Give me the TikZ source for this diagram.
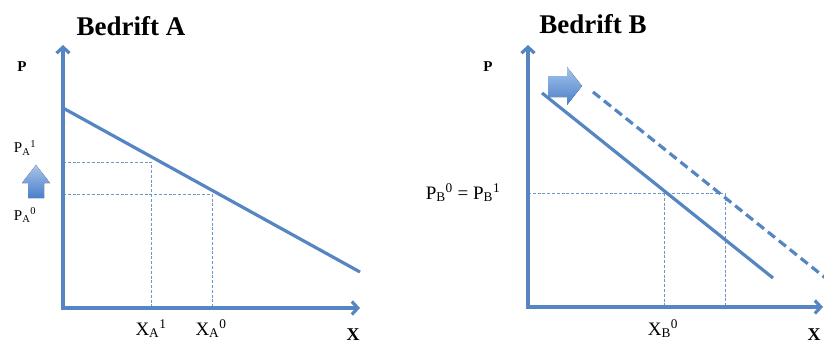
\documentclass[tikz,border=0pt]{standalone}
\usepackage{fontspec}
\setmainfont{Liberation Serif}
\usetikzlibrary{arrows.meta}
\definecolor{axblue}{HTML}{5585C2}
\definecolor{guideblue}{HTML}{6E97CC}
\definecolor{arrlight}{HTML}{A7C4EC}
\definecolor{arrdark}{HTML}{4A7FC8}
\begin{document}
\begin{tikzpicture}[x=1pt,y=-1pt,
  axis/.style={draw=axblue,line width=3.2pt,-{Straight Barb[length=6pt,width=13pt]}},
  demand/.style={draw=axblue,line width=3.2pt},
  shifted/.style={draw=axblue,line width=3.2pt,dash pattern=on 9pt off 5pt},
  guide/.style={draw=guideblue,line width=0.9pt,dash pattern=on 3pt off 1.8pt},
  title/.style={font=\fontsize{27}{31}\selectfont\bfseries},
  lab/.style={font=\fontsize{15}{17}\selectfont},
  biglab/.style={font=\fontsize{19}{22}\selectfont},
  axlab/.style={font=\fontsize{15}{17}\selectfont\bfseries},
  xlab/.style={font=\fontsize{18}{20}\selectfont\bfseries,inner sep=1pt},
  blockarrow/.style={top color=arrlight,bottom color=arrdark,draw=none}]
\useasboundingbox (0,0) rectangle (824,345);
% ---------- Bedrift A ----------
\coordinate (Aob) at (63,309.6);
\coordinate (Aol) at (61.4,308);
\coordinate (Ay) at (63,45);
\coordinate (Ax) at (360,308);
\coordinate (Ad1) at (63,108);
\coordinate (Ad2) at (360,272);
\coordinate (Ap1) at (63,162);
\coordinate (Ax1) at (151,308);
\coordinate (Ap0) at (63,194);
\coordinate (Ax0) at (212,308);
\draw[guide] (Ap1) -| (Ax1);
\draw[guide] (Ap0) -| (Ax0);
\draw[axis] (Aob) -- (Ay);
\draw[axis] (Aol) -- (Ax);
\draw[demand] (Ad1) -- (Ad2);
\fill[blockarrow] (36,165) -- (50,183) -- (44,183) -- (44,198) -- (28,198) -- (28,183) -- (22,183) -- cycle;
\node[title] (tA) at (131,26) {Bedrift A};
\node[axlab] (PA) at (22,67) {P};
\node[lab] (PA1) at (25,148) {P\textsubscript{A}\textsuperscript{1}};
\node[lab] (PA0) at (25,215) {P\textsubscript{A}\textsuperscript{0}};
\node[biglab] (XA1) at (151,329) {X\textsubscript{A}\textsuperscript{1}};
\node[biglab] (XA0) at (211,329) {X\textsubscript{A}\textsuperscript{0}};
\node[xlab] (XA) at (353,335) {X};
% ---------- Bedrift B ----------
\coordinate (Bob) at (528,308.6);
\coordinate (Bol) at (526.4,307);
\coordinate (By) at (528,45);
\coordinate (Bx) at (823,307);
\coordinate (Bd1) at (542,93);
\coordinate (Bd2) at (773,278);
\coordinate (Bs1) at (593,92);
\coordinate (Bs2) at (826,278.4);
\coordinate (Bp) at (528,193);
\coordinate (Bx0) at (664,307);
\coordinate (Bc0) at (664,193);
\coordinate (Bx1) at (725,307);
\draw[guide] (Bp) -| (Bx1);
\draw[guide] (Bc0) -- (Bx0);
\draw[axis] (Bob) -- (By);
\draw[axis] (Bol) -- (Bx);
\draw[demand] (Bd1) -- (Bd2);
\draw[shifted] (Bs1) -- (Bs2);
\fill[blockarrow] (548,76) -- (567,76) -- (567,67) -- (582,86) -- (567,105) -- (567,97) -- (548,97) -- cycle;
\node[title] (tB) at (593,24) {Bedrift B};
\node[axlab] (PB) at (488,67) {P};
\node[biglab] (PB01) at (463,193) {P\textsubscript{B}\textsuperscript{0} = P\textsubscript{B}\textsuperscript{1}};
\node[biglab] (XB0) at (663,329) {X\textsubscript{B}\textsuperscript{0}};
\node[xlab] (XB) at (814,335) {X};
\end{tikzpicture}
\end{document}
